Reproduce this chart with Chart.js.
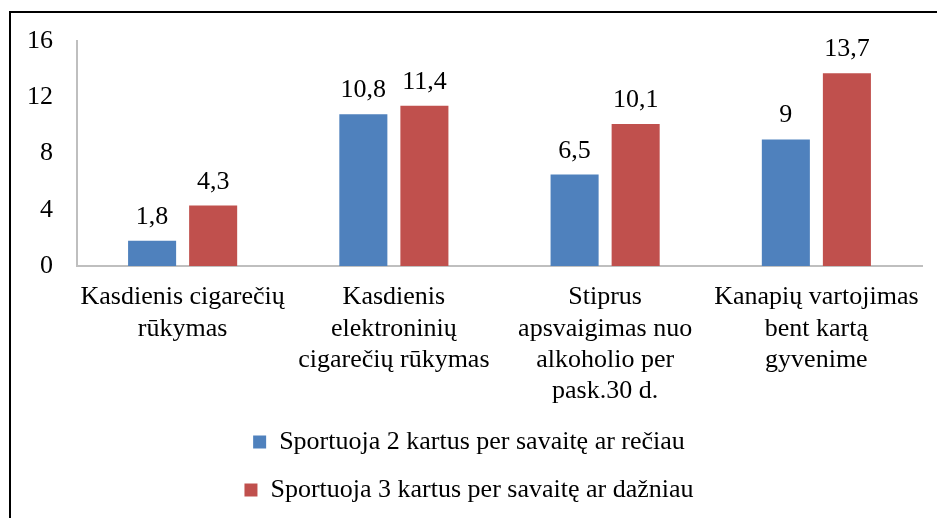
<!DOCTYPE html>
<html>
<head>
<meta charset="utf-8">
<script src="https://cdn.jsdelivr.net/npm/chart.js@4/dist/chart.umd.min.js"></script>
<style>
    body { margin: 0; background: #fff; overflow: hidden; }
    .frame { position: absolute; left: 9px; top: 11px; width: 940px; height: 520px; border-left: 2px solid #000; border-top: 2px solid #000; }
    #chart { position: absolute; left: 0; top: 0; }
</style>
</head>
<body>
<div class="frame"></div>
<canvas id="chart" width="937" height="518"></canvas>
<script>
const categories = [
    ['Kasdienis cigarečių', 'rūkymas'],
    ['Kasdienis', 'elektroninių', 'cigarečių rūkymas'],
    ['Stiprus', 'apsvaigimas nuo', 'alkoholio per', 'pask.30 d.'],
    ['Kanapių vartojimas', 'bent kartą', 'gyvenime']
];
const seriesNames = ['Sportuoja 2 kartus per savaitę ar rečiau', 'Sportuoja 3 kartus per savaitę ar dažniau'];
const rarely = [1.8, 10.8, 6.5, 9];
const often = [4.3, 11.4, 10.1, 13.7];
const yTicks = [0, 4, 8, 12, 16];

const serif = 'Liberation Serif, Times New Roman, serif';

// value labels above the bars, decimal comma
const valueLabels = {
    id: 'valueLabels',
    afterDatasetsDraw(chart) {
        const ctx = chart.ctx;
        ctx.save();
        ctx.font = '26px ' + serif;
        ctx.fillStyle = '#000';
        ctx.textAlign = 'center';
        ctx.textBaseline = 'alphabetic';
        chart.data.datasets.forEach((ds, i) => {
            chart.getDatasetMeta(i).data.forEach((bar, j) => {
                ctx.fillText(String(ds.data[j]).replace('.', ','), bar.x, bar.y - 17);
            });
        });
        ctx.restore();
    }
};

new Chart(document.getElementById('chart'), {
    type: 'bar',
    data: {
        labels: categories,
        datasets: [
            { label: seriesNames[0], data: rarely, backgroundColor: '#4F81BD', categoryPercentage: 0.578, barPercentage: 0.787 },
            { label: seriesNames[1], data: often, backgroundColor: '#C0504D', categoryPercentage: 0.578, barPercentage: 0.787 }
        ]
    },
    options: {
        responsive: false,
        animation: false,
        layout: { padding: { left: 16, right: 15, top: 41, bottom: 5 } },
        plugins: {
            tooltip: { enabled: false },
            legend: {
                position: 'bottom',
                labels: {
                    boxWidth: 13, boxHeight: 13, padding: 22, color: '#000',
                    font: { family: serif, size: 26 }
                }
            }
        },
        scales: {
            x: {
                grid: { display: false, drawTicks: false },
                border: { color: '#BFBFBF', width: 2 },
                ticks: { color: '#000', padding: 16, maxRotation: 0, autoSkip: false, font: { family: serif, size: 26, lineHeight: 1.2 } },
                afterFit: scale => { scale.height = 141; }
            },
            y: {
                min: 0, max: 16,
                afterBuildTicks: axis => { axis.ticks = yTicks.map(v => ({ value: v })); },
                grid: { display: false, drawTicks: false },
                border: { color: '#BFBFBF', width: 2 },
                ticks: { color: '#000', padding: 24, font: { family: serif, size: 26, lineHeight: 1.2 } },
                afterFit: scale => { scale.width = 61; }
            }
        }
    },
    plugins: [valueLabels]
});
</script>
</body>
</html>
